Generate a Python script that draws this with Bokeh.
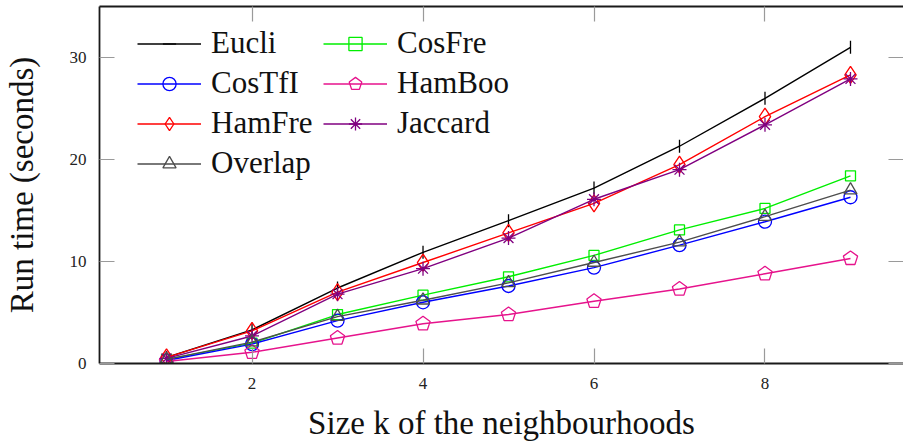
from bokeh.plotting import figure
from bokeh.models import Range1d, LinearAxis, FixedTicker, Legend, LegendItem
from bokeh.embed import file_html
from bokeh.resources import INLINE

# ---- data ----
k = [1, 2, 3, 4, 5, 6, 7, 8, 9]
eucli = [0.6, 3.3, 7.4, 10.9, 14.0, 17.2, 21.3, 26.0, 31.0]
cosfre = [0.4, 2.0, 4.8, 6.7, 8.5, 10.6, 13.1, 15.2, 18.4]
costfi = [0.3, 1.9, 4.2, 6.0, 7.6, 9.4, 11.6, 13.9, 16.3]
hamboo = [0.2, 1.1, 2.5, 3.9, 4.8, 6.1, 7.3, 8.8, 10.3]
hamfre = [0.6, 3.2, 7.0, 9.9, 12.8, 15.7, 19.5, 24.2, 28.3]
jaccard = [0.5, 2.7, 6.8, 9.3, 12.3, 16.1, 19.0, 23.4, 27.9]
overlap = [0.4, 2.1, 4.6, 6.2, 7.9, 9.9, 11.9, 14.4, 17.0]

x_ticks = [2, 4, 6, 8]
y_ticks = [0, 10, 20, 30]

FONT = "Liberation Serif"
TICK_FS = "17px"
TITLE_FS = "33px"
LEGEND_FS = "31px"

p = figure(width=903, height=443, output_backend="svg", toolbar_location=None,
           x_range=Range1d(0.216, 9.62), y_range=Range1d(0, 35),
           min_border_left=92, min_border_right=0, min_border_top=6, min_border_bottom=79)
p.background_fill_color = "white"
p.border_fill_color = "white"
p.outline_line_color = None
p.grid.visible = False

TICK_COLOR = "#9a9a9a"
AX_COLOR = "#1a1a1a"

def style_axis(ax, labels=True):
    ax.major_tick_in = 15
    ax.major_tick_out = 0
    ax.minor_tick_line_color = None
    ax.major_tick_line_color = TICK_COLOR
    ax.major_tick_line_width = 1.2
    ax.axis_line_color = AX_COLOR
    ax.axis_line_width = 1.8
    ax.major_label_text_font = FONT
    ax.major_label_text_font_size = TICK_FS
    ax.major_label_text_color = "#222222"
    ax.axis_label_text_font = FONT
    ax.axis_label_text_font_size = TITLE_FS
    ax.axis_label_text_font_style = "normal"
    ax.axis_label_text_color = "#111111"
    if not labels:
        ax.major_label_overrides = {t: "" for t in ax.ticker.ticks}
        ax.major_label_standoff = 0
        ax.axis_label_standoff = 0

xa = p.xaxis[0]
xa.ticker = FixedTicker(ticks=x_ticks)
xa.axis_label = "Size k of the neighbourhoods"
style_axis(xa)
xa.major_label_standoff = 14
xa.axis_label_standoff = 13

ya = p.yaxis[0]
ya.ticker = FixedTicker(ticks=y_ticks)
ya.axis_label = "Run time (seconds)"
style_axis(ya)
ya.major_label_standoff = 13
ya.axis_label_standoff = 27

top = LinearAxis(ticker=FixedTicker(ticks=x_ticks))
style_axis(top, labels=False)
p.add_layout(top, "above")

right = LinearAxis(ticker=FixedTicker(ticks=y_ticks))
style_axis(right, labels=False)
right.axis_line_color = None
p.add_layout(right, "right")

LW = 1.4
MLW = 1.3

series = [
    ("Eucli", eucli, "black", "dash", 13),
    ("CosFre", cosfre, "#00ee00", "square", 10),
    ("CosTfI", costfi, "#0000ff", "circle", 13),
    ("HamBoo", hamboo, "#e6138c", "pentagon", 0),
    ("HamFre", hamfre, "#ff0000", "diamond", 17),
    ("Jaccard", jaccard, "#800080", "asterisk", 14),
    ("Overlap", overlap, "#4d4d4d", "triangle", 13),
]

items = {}
for name, vals, color, marker, size in series:
    ln = p.line(k, vals, line_color=color, line_width=LW)
    if marker == "pentagon":
        mk = p.ngon(x=k, y=vals, radius=7.5, radius_units="screen", n=5,
                    angle=0, fill_color="white", fill_alpha=0.0,
                    line_color=color, line_width=MLW)
    elif marker == "dash":
        mk = p.scatter(k, vals, marker="dash", size=size, angle=1.5707963,
                       line_color=color, line_width=MLW)
    else:
        mk = p.scatter(k, vals, marker=marker, size=size, fill_color=None,
                       line_color=color, line_width=MLW)
    items[name] = LegendItem(label=name, renderers=[ln, mk])

def make_legend(names, loc):
    lg = Legend(items=[items[n] for n in names], location=loc,
                glyph_width=64, glyph_height=33, label_height=33,
                spacing=4, padding=0, margin=0, label_standoff=10,
                label_text_font=FONT, label_text_font_size=LEGEND_FS,
                label_text_color="#111111",
                border_line_color=None, background_fill_alpha=0.0)
    p.add_layout(lg, "center")

make_legend(["Eucli", "CosTfI", "HamFre", "Overlap"], (38, 182))
make_legend(["CosFre", "HamBoo", "Jaccard"], (224, 222))

open("out.html", "w").write(file_html(p, INLINE))
